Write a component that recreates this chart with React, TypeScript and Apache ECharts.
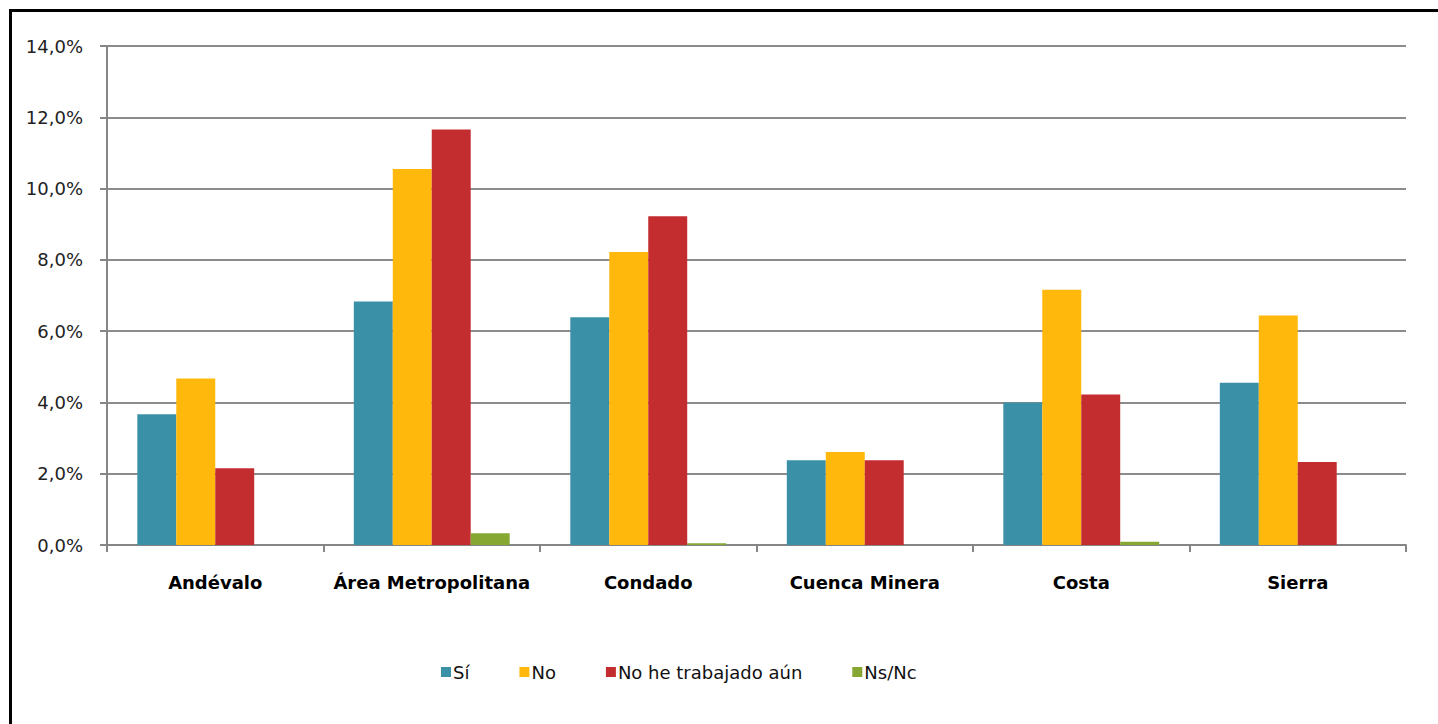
import React, { useEffect, useRef } from "react";
import * as echarts from "echarts";

const categories = ["Andévalo", "Área Metropolitana", "Condado", "Cuenca Minera", "Costa", "Sierra"];
const seriesNames = ["Sí", "No", "No he trabajado aún", "Ns/Nc"];
const si = [3.67, 6.83, 6.39, 2.38, 4.0, 4.55];
const no = [4.67, 10.55, 8.22, 2.61, 7.16, 6.44];
const noTrabajado = [2.15, 11.66, 9.22, 2.38, 4.22, 2.33];
const nsnc = [0, 0.33, 0.05, 0, 0.09, 0];
const colors = ["#3A91A7", "#FFB80B", "#C42D30", "#86A833"];
const yTicks = { min: 0, max: 14, interval: 2 };

const FONT = "'DejaVu Sans', sans-serif";

export default function App() {
  const ref = useRef<HTMLDivElement>(null);
  useEffect(() => {
    if (!ref.current) return;
    const chart = echarts.init(ref.current, null, { renderer: "svg" });
    const values = [si, no, noTrabajado, nsnc];
    chart.setOption({
      animation: false,
      backgroundColor: "#ffffff",
      textStyle: { fontFamily: FONT },
      graphic: [
        {
          type: "rect",
          shape: { x: 10.5, y: 10.5, width: 1450, height: 740 },
          style: { fill: "none", stroke: "#000000", lineWidth: 3 },
          silent: true,
        },
      ],
      grid: { left: 107, right: 32, top: 46, bottom: 179, containLabel: false },
      legend: {
        data: seriesNames,
        left: 441,
        top: 663,
        padding: 0,
        itemWidth: 10,
        itemHeight: 10,
        itemGap: 50,
        icon: "rect",
        textStyle: { fontFamily: FONT, fontSize: 18, color: "#111111", padding: [0, 0, 0, -3] },
      },
      xAxis: {
        type: "category",
        data: categories,
        axisLine: { show: true, lineStyle: { color: "#868686", width: 2 } },
        axisTick: { show: true, length: 7, lineStyle: { color: "#868686", width: 2 } },
        axisLabel: { interval: 0, fontFamily: FONT, fontWeight: "bold", fontSize: 18, color: "#000000", margin: 28 },
      },
      yAxis: {
        type: "value",
        min: yTicks.min,
        max: yTicks.max,
        interval: yTicks.interval,
        axisLine: { show: true, lineStyle: { color: "#868686", width: 2 } },
        axisTick: { show: true, length: 7, lineStyle: { color: "#868686", width: 2 } },
        splitLine: { show: true, lineStyle: { color: "#8c8c8c", width: 2 } },
        axisLabel: {
          fontFamily: FONT,
          fontSize: 18,
          color: "#222222",
          margin: 24,
          formatter: (v: number) => v.toFixed(1).replace(".", ",") + "%",
        },
      },
      series: seriesNames.map((name, i) => ({
        name,
        type: "bar",
        data: values[i],
        barGap: "0%",
        barCategoryGap: "28%",
        itemStyle: { color: colors[i] },
      })),
    });
    return () => chart.dispose();
  }, []);
  return <div ref={ref} style={{ position: "fixed", left: 0, top: 0, width: 1438, height: 724 }} />;
}
